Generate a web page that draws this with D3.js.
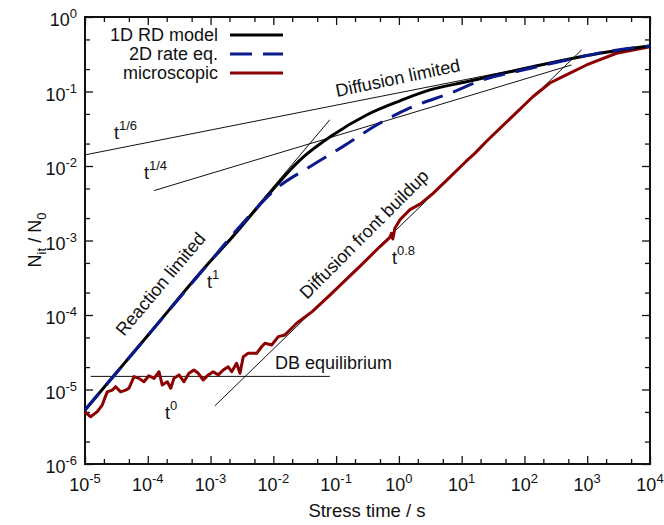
<!DOCTYPE html>
<html>
<head>
<meta charset="utf-8">
<script src="https://cdn.jsdelivr.net/npm/d3@7"></script>
<style>
  body { margin: 0; background: #fff; }
  svg text { font-family: "Liberation Sans", Arial, sans-serif; fill: #111; }
</style>
</head>
<body>
<div id="chart"></div>
<script>
// 1D RD model (black)
const rdT = [1e-5, 1e-4, 1e-3, 2.04e-3, 7.82e-3, 2.65e-2, 8.89e-2, 0.306, 1.04, 3.12, 12.0, 136, 1589, 1e4];
const rdN = [5.3e-6, 5.3e-5, 5.3e-4, 1.02e-3, 3.87e-3, 1.20e-2, 2.61e-2, 4.84e-2, 7.5e-2, 0.105, 0.135, 0.215, 0.326, 0.408];

// 2D rate equation (blue dashed)
const rateT = [1e-5, 1e-4, 1e-3, 3.28e-3, 1.13e-2, 3.83e-2, 0.128, 0.442, 1.50, 6.49, 21.8, 94.4, 473, 2050, 1e4];
const rateN = [5.3e-6, 5.3e-5, 5.3e-4, 1.72e-3, 5.02e-3, 9.79e-3, 1.82e-2, 3.55e-2, 6.01e-2, 9.46e-2, 0.143, 0.194, 0.265, 0.342, 0.408];

// microscopic simulation (dark red)
const micT = [1e-5, 1.23e-5, 1.57e-5, 1.88e-5, 2.26e-5, 2.72e-5, 3.08e-5, 3.70e-5, 4.45e-5, 5.02e-5,
  6.03e-5, 7.24e-5, 8.69e-5, 1.04e-4, 1.26e-4, 1.51e-4, 1.70e-4, 2.05e-4, 2.32e-4, 2.61e-4,
  3.14e-4, 3.77e-4, 4.53e-4, 5.44e-4, 6.37e-4, 7.65e-4, 9.19e-4, 1.10e-3, 1.33e-3, 1.59e-3,
  1.91e-3, 2.17e-3, 2.60e-3, 2.94e-3, 3.32e-3, 3.98e-3, 5.42e-3, 6.51e-3, 7.35e-3, 9.40e-3,
  1.20e-2, 1.53e-2, 1.84e-2, 2.35e-2, 4.2e-2, 7.96e-2, 0.239, 0.5, 0.72, 0.76, 0.80, 0.86,
  1.04, 1.5, 2.2, 3.5, 5.75, 11.7, 16.5, 24.9, 58.6, 136, 254, 408, 975, 2930, 1e4];
const micN = [4.99e-6, 4.31e-6, 5.04e-6, 6.19e-6, 9.3e-6, 9.8e-6, 1.09e-5, 9.3e-6, 9.8e-6, 1.04e-5,
  1.49e-5, 1.41e-5, 1.27e-5, 1.53e-5, 1.41e-5, 1.73e-5, 1.15e-5, 1.27e-5, 1.04e-5, 1.41e-5,
  1.57e-5, 1.27e-5, 1.65e-5, 1.83e-5, 1.65e-5, 1.34e-5, 1.57e-5, 1.73e-5, 1.57e-5, 1.83e-5,
  2.02e-5, 1.73e-5, 2.25e-5, 1.65e-5, 2.75e-5, 3.06e-5, 3.06e-5, 3.75e-5, 4.17e-5, 3.95e-5,
  5.12e-5, 5.40e-5, 6.30e-5, 7.74e-5, 1.12e-4, 1.85e-4, 4.5e-4, 8.3e-4, 1.1e-3, 1.25e-3, 1.05e-3, 1.45e-3,
  1.9e-3, 2.6e-3, 3.1e-3, 4.3e-3, 6.4e-3, 1.15e-2, 1.5e-2, 2.15e-2, 4.3e-2, 8.51e-2, 0.13, 0.158, 0.227, 0.326, 0.399];

// thin guide lines: start/end time and value
const guideT0 = [1e-5, 1.26e-4, 1e-5, 1.17e-3, 1.23e-5];
const guideT1 = [316, 562, 0.0794, 813, 0.0794];
const guideN0 = [0.0141, 4.68e-3, 5.3e-6, 6.03e-6, 1.5e-5];
const guideN1 = [0.251, 0.227, 0.0417, 0.361, 1.5e-5];

const xMajor = [-5, -4, -3, -2, -1, 0, 1, 2, 3, 4];
const yMajor = [-6, -5, -4, -3, -2, -1, 0];

const legendNames = ["1D RD model", "2D rate eq.", "microscopic"];

function BuildChart(){
    const width = 664;
    const height = 525;
    const margin = {top: 17, right: 14, bottom: 61, left: 85};

    const svg = d3.select("#chart").append("svg")
        .attr("width", width)
        .attr("height", height);

    const x = d3.scaleLog()
        .domain([1e-5, 1e4])
        .range([margin.left, width - margin.right]);
    const y = d3.scaleLog()
        .domain([1e-6, 1])
        .range([height - margin.bottom, margin.top]);

    const x0 = margin.left, x1 = width - margin.right;
    const y0 = height - margin.bottom, y1 = margin.top;

    const xMaj = xMajor.map(e => Math.pow(10, e));
    const yMaj = yMajor.map(e => Math.pow(10, e));
    const xMin = [], yMin = [];
    xMaj.slice(0, -1).forEach(v => { xMin.push(v * 2, v * 5); });
    yMaj.slice(0, -1).forEach(v => { yMin.push(v * 2, v * 5); });

    function ticks(axis, vals, size, tr){
        svg.append("g")
            .attr("transform", tr)
            .call(axis.tickValues(vals).tickSizeInner(-size).tickSizeOuter(0).tickFormat(""))
            .call(g => g.select(".domain").remove())
            .call(g => g.selectAll("line").attr("stroke", "#111").attr("stroke-width", 1.3));
    }
    ticks(d3.axisBottom(x), xMaj, 8, `translate(0,${y0})`);
    ticks(d3.axisBottom(x), xMin, 5, `translate(0,${y0})`);
    ticks(d3.axisTop(x), xMaj, 8, `translate(0,${y1})`);
    ticks(d3.axisTop(x), xMin, 5, `translate(0,${y1})`);
    ticks(d3.axisLeft(y), yMaj, 8, `translate(${x0},0)`);
    ticks(d3.axisLeft(y), yMin, 5, `translate(${x0},0)`);
    ticks(d3.axisRight(y), yMaj, 8, `translate(${x1},0)`);
    ticks(d3.axisRight(y), yMin, 5, `translate(${x1},0)`);

    svg.append("rect")
        .attr("x", x0).attr("y", y1)
        .attr("width", x1 - x0).attr("height", y0 - y1)
        .attr("fill", "none").attr("stroke", "#111").attr("stroke-width", 2);

    // tick labels
    const xl = svg.append("g").selectAll("text").data(xMajor).enter().append("text")
        .attr("x", d => x(Math.pow(10, d)))
        .attr("y", 491)
        .attr("text-anchor", "middle")
        .style("font-size", "18px");
    xl.append("tspan").text("10");
    xl.append("tspan").attr("dy", -8).style("font-size", "13px").text(d => d);

    const yl = svg.append("g").selectAll("text").data(yMajor).enter().append("text")
        .attr("x", 77)
        .attr("y", d => y(Math.pow(10, d)) + 9)
        .attr("text-anchor", "end")
        .style("font-size", "18px");
    yl.append("tspan").text("10");
    yl.append("tspan").attr("dy", -8).style("font-size", "13px").text(d => d);

    // axis titles
    svg.append("text")
        .attr("x", 367).attr("y", 517)
        .attr("text-anchor", "middle")
        .style("font-size", "18.5px")
        .text("Stress time / s");
    const yt = svg.append("text")
        .attr("transform", "translate(41,240) rotate(-90)")
        .attr("text-anchor", "middle")
        .style("font-size", "18px");
    yt.append("tspan").text("N");
    yt.append("tspan").attr("dy", 5).style("font-size", "13px").text("it");
    yt.append("tspan").attr("dy", -5).text(" / N");
    yt.append("tspan").attr("dy", 5).style("font-size", "13px").text("0");

    const plot = svg.append("g");

    // guide lines
    plot.selectAll(".guide")
        .data(guideT0.map((t, i) => i))
        .enter()
        .append("line")
        .attr("class", "guide")
        .attr("x1", i => x(guideT0[i])).attr("y1", i => y(guideN0[i]))
        .attr("x2", i => x(guideT1[i])).attr("y2", i => y(guideN1[i]))
        .attr("stroke", "#111").attr("stroke-width", 1);

    const smooth = d3.line()
        .x(d => x(d[0]))
        .y(d => y(d[1]))
        .curve(d3.curveMonotoneX);
    const jagged = d3.line()
        .x(d => x(d[0]))
        .y(d => y(d[1]));

    plot.append("path")
        .attr("d", jagged(micT.map((t, i) => [t, micN[i]])))
        .attr("fill", "none")
        .attr("stroke", "#8b0000")
        .attr("stroke-width", 3)
        .attr("stroke-linejoin", "round");

    plot.append("path")
        .attr("d", smooth(rdT.map((t, i) => [t, rdN[i]])))
        .attr("fill", "none")
        .attr("stroke", "#000")
        .attr("stroke-width", 3);

    plot.append("path")
        .attr("d", smooth(rateT.map((t, i) => [t, rateN[i]])))
        .attr("fill", "none")
        .attr("stroke", "#0a1a8c")
        .attr("stroke-width", 3)
        .attr("stroke-dasharray", "22,11");

    // annotations
    function label(tx, ty, angle, txt){
        svg.append("text")
            .attr("transform", `translate(${tx},${ty}) rotate(${angle})`)
            .style("font-size", "18px")
            .text(txt);
    }
    label(337, 97, -11.9, "Diffusion limited");
    label(124, 337, -49.9, "Reaction limited");
    label(307, 300, -45, "Diffusion front buildup");
    label(275, 369, 0, "DB equilibrium");

    function power(tx, ty, exp){
        const t = svg.append("text")
            .attr("x", tx).attr("y", ty)
            .style("font-size", "18px");
        t.append("tspan").text("t");
        t.append("tspan").attr("dy", -9).style("font-size", "13px").text(exp);
    }
    power(114, 139, "1/6");
    power(144, 179, "1/4");
    power(207, 288, "1");
    power(165, 419, "0");
    power(392, 264, "0.8");

    // legend
    const legColors = ["#000", "#0a1a8c", "#8b0000"];
    const leg = svg.append("g");
    legendNames.forEach((name, i) => {
        const ly = 35 + i * 19;
        leg.append("text")
            .attr("x", 218).attr("y", ly + 6)
            .attr("text-anchor", "end")
            .style("font-size", "18px")
            .text(name);
        leg.append("line")
            .attr("x1", 230).attr("x2", 283)
            .attr("y1", ly).attr("y2", ly)
            .attr("stroke", legColors[i])
            .attr("stroke-width", 3)
            .attr("stroke-dasharray", i === 1 ? "22,11" : null);
    });
}

BuildChart();
</script>
</body>
</html>
